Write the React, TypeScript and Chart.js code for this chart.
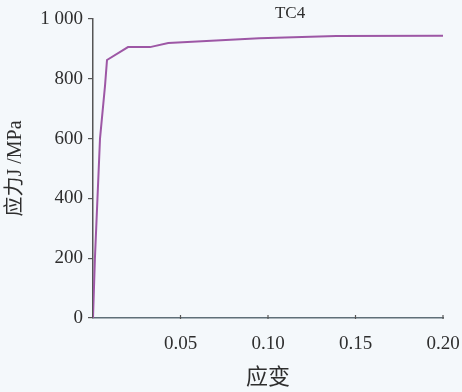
import React, { useEffect, useRef } from "react";
import { Chart, registerables } from "chart.js";

Chart.register(...registerables);

const chartTitle = "TC4";
const xAxisTitle = "应变";
const yAxisTitle = "应力J /MPa";
const strain = [0, 0.0011, 0.004, 0.0069, 0.008, 0.02, 0.0326, 0.043, 0.095, 0.139, 0.2];
const stress = [0, 200, 600, 779, 863, 906, 906, 920, 936, 943, 944];
const xTicks = [0.05, 0.1, 0.15, 0.2];
const yTicks = [0, 200, 400, 600, 800, 1000];

const BG = "#f4f8fb";
const TEXT = "#2e2e2e";
const SERIF = "'Liberation Serif', 'DejaVu Serif', serif";
const MIXED = "'Liberation Serif', 'Noto Sans CJK SC', serif";
const CJK = "'Noto Sans CJK SC', 'Liberation Serif', serif";

export default function App() {
  const ref = useRef<HTMLCanvasElement | null>(null);

  useEffect(() => {
    document.body.style.margin = "0";
    document.body.style.background = BG;
    const canvas = ref.current!;
    const extras = {
      id: "extras",
      beforeDraw(chart: any) {
        const ctx = chart.ctx;
        ctx.save();
        ctx.fillStyle = BG;
        ctx.fillRect(0, 0, chart.width, chart.height);
        ctx.restore();
      },
      afterDraw(chart: any) {
        const ctx = chart.ctx;
        const xs = chart.scales.x;
        const ys = chart.scales.y;
        ctx.save();
        ctx.strokeStyle = "#555";
        ctx.lineWidth = 1.2;
        for (const t of xTicks) {
          const px = xs.getPixelForValue(t);
          ctx.beginPath();
          ctx.moveTo(px, ys.bottom + 1);
          ctx.lineTo(px, ys.bottom - 3);
          ctx.stroke();
        }
        ctx.fillStyle = TEXT;
        ctx.font = `17px ${SERIF}`;
        ctx.textAlign = "center";
        ctx.textBaseline = "middle";
        ctx.fillText(chartTitle, xs.getPixelForValue(0.1126), 14);
        ctx.restore();
      },
    };

    const chart = new Chart(canvas, {
      type: "line",
      data: {
        datasets: [
          {
            data: strain.map((x, i) => ({ x, y: stress[i] })),
            borderColor: "#9d57a5",
            borderWidth: 2,
            pointRadius: 0,
            tension: 0,
            fill: false,
          },
        ],
      },
      options: {
        animation: false,
        responsive: false,
        devicePixelRatio: 1,
        layout: { padding: { top: 19, right: 19, left: 0, bottom: 0 } },
        plugins: { legend: { display: false }, tooltip: { enabled: false }, title: { display: false } },
        scales: {
          x: {
            type: "linear",
            min: 0,
            max: 0.2,
            afterBuildTicks: (s: any) => {
              s.ticks = [0, ...xTicks].map((v) => ({ value: v }));
            },
            afterFit: (s: any) => {
              s.height = 74;
              s.paddingLeft = 0;
              s.paddingRight = 0;
            },
            ticks: {
              color: TEXT,
              font: { family: SERIF, size: 19 },
              padding: 15,
              maxRotation: 0,
              autoSkip: false,
              callback: (v: any) => (v === 0 ? "" : Number(v).toFixed(2)),
            },
            grid: { display: false, drawTicks: false },
            border: { display: true, color: "#5f6f78", width: 1.5 },
            title: {
              display: true,
              text: xAxisTitle,
              color: TEXT,
              font: { family: CJK, size: 22 },
              padding: { top: 0, bottom: 3 },
            },
          },
          y: {
            type: "linear",
            min: 0,
            max: 1000,
            afterBuildTicks: (s: any) => {
              s.ticks = yTicks.map((v) => ({ value: v }));
            },
            afterFit: (s: any) => {
              s.width = 93;
              s.paddingTop = 0;
              s.paddingBottom = 0;
            },
            ticks: {
              color: TEXT,
              font: { family: SERIF, size: 19 },
              padding: 5,
              autoSkip: false,
              callback: (v: any) => (v === 1000 ? "1 000" : String(v)),
            },
            grid: { display: true, drawOnChartArea: false, drawTicks: true, tickLength: 5, color: "#555", lineWidth: 1.2 },
            border: { display: true, color: "#555", width: 1.5 },
            title: {
              display: true,
              text: yAxisTitle,
              color: TEXT,
              font: { family: MIXED, size: 20 },
              padding: { top: 4, bottom: 0 },
            },
          },
        },
      },
      plugins: [extras],
    });
    return () => chart.destroy();
  }, []);

  return (
    <canvas
      ref={ref}
      width={462}
      height={392}
      style={{ display: "block", position: "fixed", left: 0, top: 0, width: 462, height: 392 }}
    />
  );
}
